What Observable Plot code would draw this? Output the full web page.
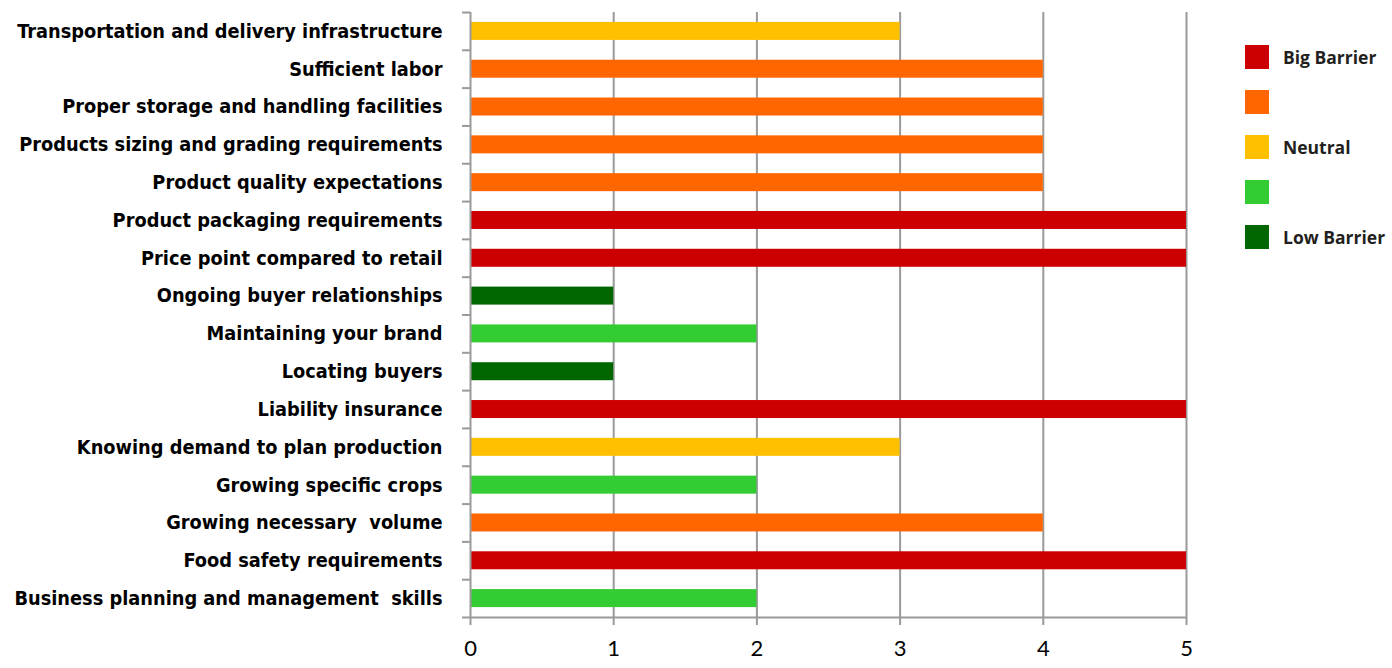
<!DOCTYPE html>
<html>
<head>
<meta charset="utf-8">
<script src="https://cdn.jsdelivr.net/npm/d3@7"></script>
<script src="https://cdn.jsdelivr.net/npm/@observablehq/plot@0.6"></script>
<style>
  body { margin: 0; background: #fff; }
  #wrap { position: relative; width: 1392px; height: 668px; }
  #legend { position: absolute; left: 1245px; top: 45px; font-family: "Open Sans", Lato, sans-serif; font-weight: 700; font-size: 17.5px; color: #231f20; }
  .item { display: flex; align-items: center; height: 24px; margin-bottom: 21px; white-space: nowrap; }
  .sw { width: 24px; height: 24px; margin-right: 14px; flex: none; }
  g[aria-label="y-axis tick label"] text { font-stretch: condensed; }
</style>
</head>
<body>
<div id="wrap"><div id="legend"></div></div>
<script>
const categories = [
  "Transportation and delivery infrastructure",
  "Sufficient labor",
  "Proper storage and handling facilities",
  "Products sizing and grading requirements",
  "Product quality expectations",
  "Product packaging requirements",
  "Price point compared to retail",
  "Ongoing buyer relationships",
  "Maintaining your brand",
  "Locating buyers",
  "Liability insurance",
  "Knowing demand to plan production",
  "Growing specific crops",
  "Growing necessary  volume",
  "Food safety requirements",
  "Business planning and management  skills"
];
const values = [3, 4, 4, 4, 4, 5, 5, 1, 2, 1, 5, 3, 2, 4, 5, 2];
const levels = [5, 4, 3, 2, 1];
const levelLabels = ["Big Barrier", "", "Neutral", "", "Low Barrier"];
const levelColors = ["#cc0000", "#ff6600", "#ffc000", "#33cc33", "#006600"];
const xTicks = [0, 1, 2, 3, 4, 5];

const data = categories.map((c, i) => ({category: c, value: values[i]}));
const W = 1392, H = 668, mTop = 12, mBottom = 51, mLeft = 470, mRight = 206;
const step = (H - mTop - mBottom) / categories.length;
const grid = "#9a9a9a";

const chart = Plot.plot({
  width: W, height: H,
  marginTop: mTop, marginBottom: mBottom, marginLeft: mLeft, marginRight: mRight,
  x: {domain: [0, 5], ticks: xTicks},
  y: {domain: categories, paddingInner: 0.524, paddingOuter: 0.262, round: false},
  color: {domain: levels, range: levelColors},
  style: {background: "#fff"},
  marks: [
    Plot.ruleX(xTicks.slice(1), {stroke: grid, strokeWidth: 2}),
    Plot.barX(data, {y: "category", x: "value", fill: d => d.value}),
    Plot.ruleX([0], {stroke: grid, strokeWidth: 2}),
    Plot.ruleY([categories[categories.length - 1]], {x1: 0, x2: 5, dy: step / 2, stroke: grid, strokeWidth: 2}),
    Plot.axisX({ticks: xTicks, tickFormat: "d", tickSize: 8, tickPadding: 15, stroke: grid, strokeWidth: 2, fill: "#000",
      fontSize: 22, fontFamily: "Lato, 'Open Sans', sans-serif", label: null}),
    Plot.axisY({tickSize: 0, tickPadding: 28, fontSize: 19.8, fontWeight: 700, fill: "#000",
      fontFamily: "'DejaVu Sans', sans-serif", label: null}),
    Plot.axisY({tickSize: 8, text: null, dy: -step / 2, stroke: grid, strokeWidth: 2, label: null}),
    Plot.axisY([categories[categories.length - 1]], {tickSize: 8, text: null, dy: step / 2, stroke: grid, strokeWidth: 2, label: null})
  ]
});
document.getElementById("wrap").prepend(chart);

const leg = document.getElementById("legend");
levels.forEach((l, i) => {
  const it = document.createElement("div");
  it.className = "item";
  const sw = document.createElement("div");
  sw.className = "sw";
  sw.style.background = levelColors[i];
  const t = document.createElement("span");
  t.textContent = levelLabels[i];
  it.append(sw, t);
  leg.append(it);
});
</script>
</body>
</html>
